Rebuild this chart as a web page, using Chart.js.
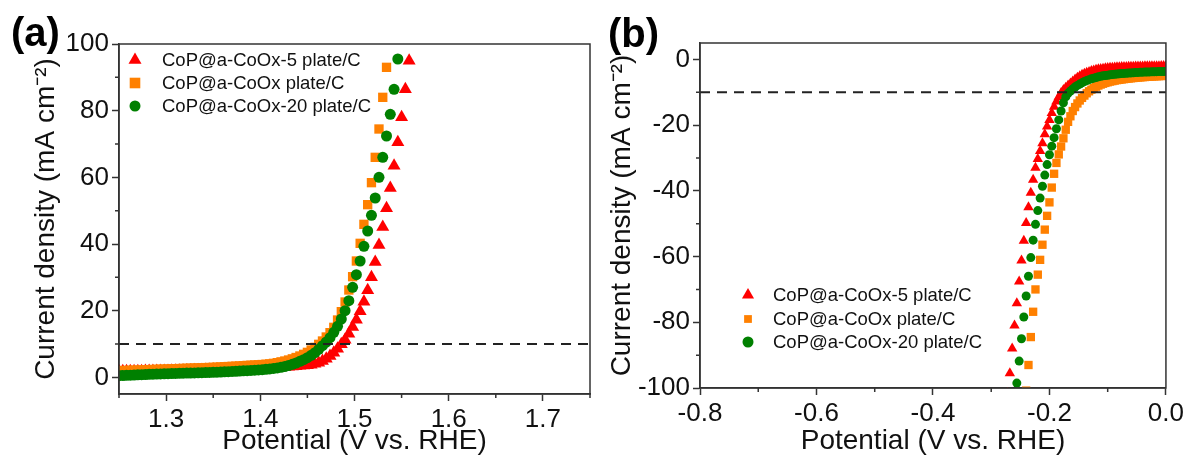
<!DOCTYPE html>
<html>
<head>
<meta charset="utf-8">
<script src="https://cdn.jsdelivr.net/npm/chart.js@4.4.1/dist/chart.umd.min.js"></script>
<style>
  html, body { margin: 0; padding: 0; background: #fff; }
  #wrap { position: relative; width: 1187px; height: 462px; overflow: hidden; background: #fff; }
  .panel { position: absolute; top: 0; }
</style>
</head>
<body>
<div id="wrap">
  <div class="panel" style="left:0"><canvas id="chartA" width="600" height="462"></canvas></div>
  <div class="panel" style="left:600px"><canvas id="chartB" width="587" height="462"></canvas></div>
</div>
<script>
// series names / colours (shared by both panels)
const seriesNames = ['CoP@a-CoOx-5 plate/C', 'CoP@a-CoOx plate/C', 'CoP@a-CoOx-20 plate/C'];
const seriesColors = ['#ff0000', '#ff8000', '#008000'];
const seriesStyles = ['triangle', 'rect', 'circle'];

// panel (a): OER, potential (V vs. RHE)
const potA = [
  1.250,1.254,1.258,1.262,1.266,1.270,1.274,1.278,1.282,1.286,
  1.290,1.294,1.298,1.302,1.306,1.310,1.314,1.318,1.322,1.326,
  1.330,1.334,1.338,1.342,1.346,1.350,1.354,1.358,1.362,1.366,
  1.370,1.374,1.378,1.382,1.386,1.390,1.394,1.398,1.402,1.406,
  1.410,1.414,1.418,1.422,1.426,1.430,1.434,1.438,1.442,1.446,
  1.450,1.454,1.458,1.462,1.466,1.470,1.474,1.478,1.482,1.486,
  1.490,1.494,1.498,1.502,1.506,1.510,1.514,1.518,1.522,1.526,
  1.530,1.534,1.538,1.542,1.546,1.550,1.554,1.558,1.562
];
const redA = [
  1.80,1.81,1.82,1.83,1.84,1.85,1.86,1.87,1.88,1.89,
  1.90,1.91,1.92,1.93,1.95,1.97,1.99,2.01,2.03,2.06,
  2.09,2.12,2.15,2.18,2.21,2.24,2.28,2.32,2.36,2.40,
  2.44,2.48,2.52,2.56,2.60,2.64,2.68,2.72,2.77,2.82,
  2.87,2.93,2.99,3.05,3.12,3.20,3.28,3.36,3.45,3.55,
  3.65,3.80,4.05,4.40,4.90,5.60,6.40,7.40,8.60,9.90,
  11.3,13.1,15.1,17.3,19.8,22.7,26.1,30.0,34.6,39.7,
  45.1,50.7,56.8,63.5,70.5,78.0,86.4,95.0,103.5
];
const orangeA = [
  2.00,2.04,2.08,2.12,2.16,2.20,2.24,2.28,2.32,2.36,
  2.40,2.44,2.48,2.52,2.56,2.60,2.64,2.68,2.72,2.76,
  2.80,2.84,2.88,2.92,2.96,3.00,3.06,3.12,3.18,3.24,
  3.30,3.36,3.42,3.50,3.58,3.64,3.70,3.76,3.84,3.94,
  4.05,4.20,4.40,4.65,4.90,5.20,5.55,5.95,6.40,6.90,
  7.50,8.20,9.00,9.90,10.9,12.1,13.4,15.0,17.2,19.7,
  22.6,26.2,30.2,34.9,40.2,45.9,51.8,58.4,66.0,74.5,
  84.0,93.0,102.5,null,null,null,null,null,null
];
const greenA = [
  0.50,0.55,0.60,0.65,0.70,0.75,0.80,0.85,0.90,0.95,
  1.00,1.03,1.07,1.10,1.13,1.17,1.20,1.23,1.27,1.30,
  1.33,1.37,1.40,1.43,1.47,1.50,1.55,1.60,1.65,1.70,
  1.76,1.82,1.88,1.94,2.00,2.07,2.14,2.22,2.30,2.40,
  2.52,2.66,2.82,3.00,3.25,3.55,3.90,4.30,4.80,5.30,
  5.90,6.60,7.40,8.40,9.50,10.6,11.9,13.5,15.3,17.5,
  20.0,23.0,27.0,30.8,34.9,39.3,43.9,48.6,53.8,60.0,
  66.0,72.4,78.9,86.4,95.5,null,null,null,null
];
const xTicksA = [1.3, 1.4, 1.5, 1.6, 1.7];
const xMinorA = [1.25, 1.35, 1.45, 1.55, 1.65, 1.75];
const yTicksA = [0, 20, 40, 60, 80, 100];
const yMinorA = [10, 30, 50, 70, 90];
const refLineA = 10;

// panel (b): HER, potential (V vs. RHE)
const potB = [
  -0.272,-0.268,-0.264,-0.260,-0.256,-0.252,-0.248,-0.244,-0.240,-0.236,
  -0.232,-0.228,-0.224,-0.220,-0.216,-0.212,-0.208,-0.204,-0.200,-0.196,
  -0.192,-0.188,-0.184,-0.180,-0.176,-0.172,-0.168,-0.164,-0.160,-0.156,
  -0.152,-0.148,-0.144,-0.140,-0.136,-0.132,-0.128,-0.124,-0.120,-0.116,
  -0.112,-0.108,-0.104,-0.100,-0.096,-0.092,-0.088,-0.084,-0.080,-0.076,
  -0.072,-0.068,-0.064,-0.060,-0.056,-0.052,-0.048,-0.044,-0.040,-0.036,
  -0.032,-0.028,-0.024,-0.020,-0.016,-0.012,-0.008,-0.004,0.000
];
const redB = [
  -101.5,-95.5,-88.0,-81.0,-74.2,-67.6,-61.2,-55.2,-49.8,-45.0,
  -40.6,-36.6,-33.0,-30.3,-27.9,-25.5,-22.8,-20.4,-18.4,-16.3,
  -14.4,-12.8,-11.4,-10.2,-9.3,-8.6,-7.9,-7.3,-6.7,-6.1,
  -5.6,-5.1,-4.7,-4.35,-4.05,-3.8,-3.55,-3.35,-3.17,-3.02,
  -2.9,-2.8,-2.71,-2.63,-2.56,-2.5,-2.45,-2.41,-2.37,-2.34,
  -2.31,-2.28,-2.25,-2.23,-2.21,-2.19,-2.17,-2.15,-2.13,-2.11,
  -2.09,-2.08,-2.07,-2.06,-2.05,-2.04,-2.03,-2.01,-2.0
];
const orangeB = [
  null,null,null,null,null,null,null,null,-100.8,-93.0,
  -84.5,-76.8,-70.0,-65.5,-61.0,-56.4,-51.8,-47.6,-43.5,-39.0,
  -34.8,-31.5,-28.9,-26.5,-24.0,-21.4,-19.0,-17.3,-15.7,-14.5,
  -13.4,-12.5,-11.7,-11.0,-10.3,-9.7,-9.2,-8.7,-8.3,-7.95,
  -7.65,-7.4,-7.15,-6.95,-6.75,-6.6,-6.45,-6.3,-6.2,-6.1,
  -6.0,-5.9,-5.82,-5.74,-5.66,-5.59,-5.52,-5.46,-5.4,-5.35,
  -5.3,-5.25,-5.2,-5.16,-5.12,-5.08,-5.05,-5.02,-5.0
];
const greenB = [
  null,null,null,null,-98.5,-91.8,-85.0,-78.4,-72.0,-66.0,
  -60.3,-55.0,-50.2,-46.0,-42.2,-38.6,-35.2,-32.0,-29.0,-26.4,
  -23.8,-21.1,-18.4,-15.7,-13.2,-11.4,-10.3,-9.6,-9.0,-8.4,
  -7.9,-7.5,-7.1,-6.75,-6.45,-6.15,-5.9,-5.7,-5.5,-5.3,
  -5.15,-5.0,-4.9,-4.8,-4.7,-4.6,-4.52,-4.45,-4.38,-4.32,
  -4.26,-4.2,-4.15,-4.1,-4.05,-4.0,-3.96,-3.92,-3.88,-3.85,
  -3.82,-3.79,-3.77,-3.75,-3.73,-3.71,-3.7,-3.69,-3.68
];
const xTicksB = [-0.8, -0.6, -0.4, -0.2, 0.0];
const xMinorB = [-0.7, -0.5, -0.3, -0.1];
const yTicksB = [-100, -80, -60, -40, -20, 0];
const yMinorB = [-90, -70, -50, -30, -10];
const refLineB = -10;

const FONT = "'Liberation Sans', Arial, Helvetica, sans-serif";
const AXIS_COLOR = '#333';
const TEXT_COLOR = '#111';
const MINOR_LEN = 4;

function toPoints(xs, ys) {
  const pts = [];
  xs.forEach((x, i) => { if (ys[i] !== null) pts.push({ x: x, y: ys[i] }); });
  return pts;
}

// legend marker (own small shapes)
function drawMarker(ctx, style, x, y, r, color) {
  ctx.fillStyle = color;
  ctx.beginPath();
  if (style === 'triangle') {
    for (let k = 0; k < 3; k++) {
      const a = k * 2 * Math.PI / 3;
      const px = x + Math.sin(a) * r, py = y - Math.cos(a) * r;
      if (k === 0) ctx.moveTo(px, py); else ctx.lineTo(px, py);
    }
    ctx.closePath();
  } else if (style === 'rect') {
    const s = Math.SQRT1_2 * r;
    ctx.rect(x - s, y - s, 2 * s, 2 * s);
  } else {
    ctx.arc(x, y, r, 0, Math.PI * 2);
  }
  ctx.fill();
}

// frame, minor ticks, legend and panel letter
function decorPlugin(cfg) {
  return {
    id: 'decor',
    afterDraw(chart) {
      const ctx = chart.ctx;
      const area = chart.chartArea;
      const xs = chart.scales.x;
      const ys = chart.scales.y;
      ctx.save();
      ctx.strokeStyle = AXIS_COLOR;
      ctx.lineWidth = 1.5;
      ctx.strokeRect(area.left, area.top, area.right - area.left, area.bottom - area.top);

      ctx.beginPath();
      cfg.xMinor.forEach(v => {
        const px = xs.getPixelForValue(v);
        ctx.moveTo(px, area.bottom);
        ctx.lineTo(px, area.bottom + MINOR_LEN);
      });
      cfg.yMinor.forEach(v => {
        const py = ys.getPixelForValue(v);
        ctx.moveTo(area.left, py);
        ctx.lineTo(area.left - MINOR_LEN, py);
      });
      ctx.stroke();

      // legend
      ctx.font = '18.5px ' + FONT;
      ctx.textBaseline = 'middle';
      seriesNames.forEach((name, i) => {
        const y = cfg.legendY[i];
        drawMarker(ctx, seriesStyles[i], cfg.legendMarkX, y, cfg.legendR[i], seriesColors[i]);
        ctx.fillStyle = TEXT_COLOR;
        ctx.fillText(name, cfg.legendTextX, y + 1);
      });

      // panel letter
      ctx.font = 'bold 40px ' + FONT;
      ctx.fillStyle = '#000';
      ctx.textBaseline = 'middle';
      ctx.fillText(cfg.letter, cfg.letterX, cfg.letterY);
      ctx.restore();
    }
  };
}

function buildPanel(id, p) {
  const ctx = document.getElementById(id).getContext('2d');
  const datasets = [
    {
      type: 'line',
      label: 'ref',
      data: [{ x: p.xMin, y: p.refLine }, { x: p.xMax, y: p.refLine }],
      borderColor: '#222',
      borderWidth: 2,
      borderDash: [10, 7],
      pointRadius: 0,
      showLine: true,
      order: 0
    }
  ];
  p.series.forEach((ys, i) => {
    datasets.push({
      label: seriesNames[i],
      data: toPoints(p.pot, ys),
      pointStyle: seriesStyles[i],
      pointRadius: p.radius[i],
      pointBorderWidth: 0,
      backgroundColor: seriesColors[i],
      borderColor: seriesColors[i],
      showLine: false,
      order: 3 - i
    });
  });

  return new Chart(ctx, {
    type: 'scatter',
    data: { datasets: datasets },
    options: {
      responsive: false,
      animation: false,
      devicePixelRatio: 1,
      events: [],
      layout: { padding: p.padding },
      plugins: { legend: { display: false }, tooltip: { enabled: false } },
      scales: {
        x: {
          type: 'linear',
          min: p.xMin,
          max: p.xMax,
          afterBuildTicks: (scale) => { scale.ticks = p.xTicks.map(v => ({ value: v })); },
          afterFit: (scale) => { scale.height = p.xAxisHeight; },
          ticks: {
            autoSkip: false,
            maxRotation: 0,
            padding: 3,
            color: TEXT_COLOR,
            font: { family: FONT, size: 26 },
            callback: (v) => Number(v).toFixed(1)
          },
          grid: { display: true, drawOnChartArea: false, drawTicks: true, tickLength: 7, tickWidth: 1.5, tickColor: AXIS_COLOR },
          border: { display: true, color: AXIS_COLOR, width: 1.5 },
          title: {
            display: true,
            text: 'Potential (V vs. RHE)',
            color: TEXT_COLOR,
            font: { family: FONT, size: 28 },
            padding: { top: 0, bottom: 4 }
          }
        },
        y: {
          type: 'linear',
          min: p.yMin,
          max: p.yMax,
          afterBuildTicks: (scale) => { scale.ticks = p.yTicks.map(v => ({ value: v })); },
          afterFit: (scale) => { scale.width = p.yAxisWidth; },
          ticks: {
            autoSkip: false,
            padding: 3,
            color: TEXT_COLOR,
            font: { family: FONT, size: 26 },
            callback: (v) => String(v)
          },
          grid: { display: true, drawOnChartArea: false, drawTicks: true, tickLength: 7, tickWidth: 1.5, tickColor: AXIS_COLOR },
          border: { display: true, color: AXIS_COLOR, width: 1.5 },
          title: {
            display: true,
            text: 'Current density (mA cm\u207B\u00B2)',
            color: TEXT_COLOR,
            font: { family: FONT, size: 28 },
            padding: { top: p.yTitlePad, bottom: 0 }
          }
        }
      }
    },
    plugins: [decorPlugin(p.decor)]
  });
}

buildPanel('chartA', {
  pot: potA,
  series: [redA, orangeA, greenA],
  radius: [7.5, 6.6, 5.5],
  xMin: 1.25, xMax: 1.75, yMin: -5, yMax: 100,
  xTicks: xTicksA, yTicks: yTicksA,
  refLine: refLineA,
  padding: { top: 44, right: 10, bottom: 0, left: 0 },
  xAxisHeight: 68,
  yAxisWidth: 119,
  yTitlePad: 29,
  decor: {
    xMinor: xMinorA, yMinor: yMinorA,
    legendMarkX: 135, legendTextX: 162, legendY: [60, 83, 106], legendR: [7.5, 7.5, 5.5],
    letter: '(a)', letterX: 11, letterY: 35
  }
});

buildPanel('chartB', {
  pot: potB,
  series: [redB, orangeB, greenB],
  radius: [6, 5.9, 4.5],
  xMin: -0.8, xMax: 0.0, yMin: -100, yMax: 5,
  xTicks: xTicksB, yTicks: yTicksB,
  refLine: refLineB,
  padding: { top: 43, right: 20.5, bottom: 0, left: 0 },
  xAxisHeight: 74,
  yAxisWidth: 100,
  yTitlePad: 5,
  decor: {
    xMinor: xMinorB, yMinor: yMinorB,
    legendMarkX: 148, legendTextX: 173, legendY: [295, 319, 342], legendR: [7, 5.5, 5.5],
    letter: '(b)', letterX: 8, letterY: 36
  }
});
</script>
</body>
</html>
